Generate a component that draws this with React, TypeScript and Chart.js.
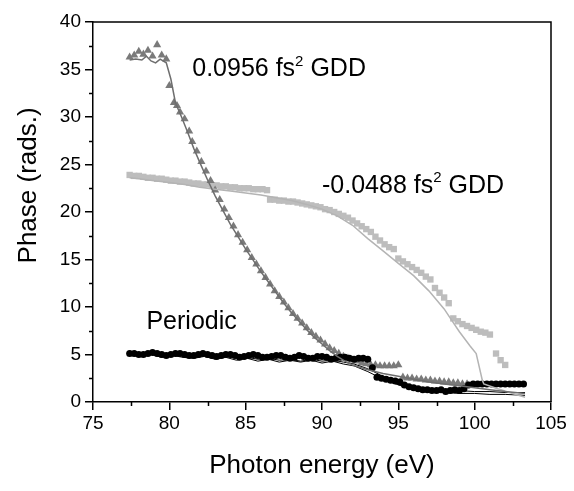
import React, { useEffect, useRef } from 'react';
import { Chart, registerables } from 'chart.js';

Chart.register(...registerables);

const FONT = "'Liberation Sans', Arial, sans-serif";

// 0.0956 fs^2 GDD (triangles, measured)
const triX = [77.4, 77.7, 78.0, 78.3, 78.6, 78.9, 79.2, 79.5, 79.8, 80.0, 80.3, 80.5, 80.7, 81.0, 81.3, 81.5, 81.8, 82.1, 82.4, 82.7, 83.0, 83.3, 83.6, 83.9, 84.2, 84.5, 84.8, 85.1, 85.4, 85.7, 86.0, 86.3, 86.6, 86.9, 87.2, 87.5, 87.8, 88.1, 88.4, 88.7, 89.0, 89.3, 89.6, 89.9, 90.2, 90.5, 90.8, 91.1, 91.4, 91.7, 92.0, 92.3, 92.6, 92.9, 93.2, 93.5, 93.8, 94.1, 94.4, 94.7, 95.0, 95.3, 95.6, 95.9, 96.2, 96.5, 96.8, 97.1, 97.4, 97.7, 98.0, 98.3, 98.6, 98.9, 99.2, 99.5];
const triY = [36.3, 36.5, 36.9, 36.6, 37.0, 36.4, 37.6, 36.5, 36.1, 33.3, 31.5, 31.2, 30.5, 29.8, 28.5, 27.4, 26.4, 25.3, 24.3, 23.3, 22.3, 21.3, 20.3, 19.4, 18.5, 17.6, 16.8, 16.0, 15.2, 14.5, 13.8, 13.1, 12.4, 11.7, 11.1, 10.5, 9.9, 9.3, 8.8, 8.3, 7.8, 7.3, 6.9, 6.5, 6.1, 5.7, 5.4, 5.1, 4.8, 4.6, 4.4, 4.3, 4.1, 4.0, 3.9, 3.9, 3.8, 3.8, 3.8, 3.8, 3.9, 2.6, 2.5, 2.5, 2.4, 2.4, 2.3, 2.3, 2.2, 2.2, 2.1, 2.1, 2.0, 2.0, 1.9, 1.9];

// 0.0956 fs^2 GDD (fit line)
const triFitX = [77.4, 77.8, 78.2, 78.5, 78.8, 79.1, 79.4, 79.8, 80.1, 80.4, 80.8, 81.2, 81.6, 82.0, 82.5, 83.0, 83.5, 84.0, 84.5, 85.0, 85.5, 86.0, 86.5, 87.0, 87.5, 88.0, 88.5, 89.0, 89.5, 90.0, 90.5, 91.0, 91.5, 92.0, 93.0, 94.0, 95.0, 96.0, 97.0, 98.0, 99.0, 100.0, 101.0, 102.0, 103.3];
const triFitY = [36.0, 36.1, 36.0, 36.4, 35.9, 35.7, 36.1, 35.7, 34.0, 31.5, 30.0, 28.4, 26.7, 25.2, 23.4, 21.7, 20.2, 18.7, 17.4, 16.1, 14.9, 13.7, 12.6, 11.5, 10.4, 9.4, 8.5, 7.6, 6.8, 6.1, 5.4, 4.8, 4.3, 3.9, 3.4, 3.0, 2.7, 2.4, 2.1, 1.9, 1.7, 1.5, 1.3, 1.1, 0.9];

// -0.0488 fs^2 GDD (squares, measured)
const sqX = [77.4, 77.7, 78.0, 78.3, 78.6, 78.9, 79.2, 79.5, 79.8, 80.1, 80.4, 80.7, 81.0, 81.3, 81.6, 81.9, 82.2, 82.5, 82.8, 83.1, 83.4, 83.7, 84.0, 84.3, 84.6, 84.9, 85.2, 85.5, 85.8, 86.1, 86.4, 86.6, 86.9, 87.2, 87.5, 87.8, 88.1, 88.4, 88.7, 89.0, 89.3, 89.6, 89.9, 90.2, 90.5, 90.8, 91.1, 91.4, 91.7, 92.0, 92.3, 92.6, 92.9, 93.2, 93.5, 93.8, 94.1, 94.4, 94.7, 95.0, 95.3, 95.6, 95.9, 96.2, 96.5, 96.8, 97.1, 97.4, 97.7, 98.0, 98.3, 98.6, 98.9, 99.2, 99.5, 99.8, 100.1, 100.4, 100.7, 101.0, 101.4, 101.7, 102.0];
const sqY = [23.9, 23.8, 23.8, 23.7, 23.6, 23.6, 23.5, 23.5, 23.4, 23.3, 23.3, 23.2, 23.2, 23.1, 23.0, 23.0, 22.9, 22.9, 22.8, 22.8, 22.7, 22.7, 22.6, 22.6, 22.5, 22.5, 22.5, 22.4, 22.4, 22.4, 22.3, 21.3, 21.3, 21.2, 21.2, 21.1, 21.1, 21.0, 20.9, 20.8, 20.7, 20.6, 20.5, 20.3, 20.2, 20.0, 19.8, 19.6, 19.4, 19.1, 18.8, 18.5, 18.2, 17.9, 17.4, 17.0, 16.6, 16.3, 16.1, 15.1, 14.8, 14.5, 14.2, 13.9, 13.6, 13.2, 12.9, 12.0, 11.5, 11.0, 10.4, 8.8, 8.5, 8.2, 8.0, 7.8, 7.6, 7.4, 7.3, 7.1, 5.1, 4.4, 3.9];

// -0.0488 fs^2 GDD (fit line)
const sqFitX = [77.4, 78.0, 79.0, 80.0, 81.0, 82.0, 83.0, 84.0, 85.0, 86.0, 87.0, 88.0, 89.0, 90.0, 91.0, 92.0, 93.0, 94.0, 95.0, 96.0, 97.0, 98.0, 98.5, 99.0, 99.7, 100.1, 100.5, 100.6, 101.5, 102.5, 103.3];
const sqFitY = [23.6, 23.5, 23.3, 23.1, 22.9, 22.6, 22.4, 22.2, 22.0, 21.8, 21.5, 21.2, 20.8, 20.3, 19.6, 18.6, 17.2, 15.9, 14.6, 13.3, 11.7, 9.8, 8.6, 7.4, 5.9, 5.1, 2.3, 1.9, 1.4, 0.9, 0.5];

// Periodic (circles, measured)
const perX = [77.4, 77.7, 78.0, 78.3, 78.6, 78.9, 79.2, 79.5, 79.8, 80.1, 80.4, 80.7, 81.0, 81.3, 81.6, 81.9, 82.2, 82.5, 82.8, 83.1, 83.4, 83.7, 84.0, 84.3, 84.6, 84.9, 85.2, 85.5, 85.8, 86.1, 86.4, 86.7, 87.0, 87.3, 87.6, 87.9, 88.2, 88.5, 88.8, 89.1, 89.4, 89.7, 90.0, 90.3, 90.6, 90.9, 91.2, 91.5, 91.8, 92.1, 92.4, 92.7, 93.0, 93.3, 93.6, 93.9, 94.2, 94.5, 94.8, 95.1, 95.4, 95.7, 96.0, 96.3, 96.6, 96.9, 97.2, 97.5, 97.8, 98.1, 98.4, 98.7, 99.0, 99.3, 99.6, 99.9, 100.2, 100.5, 100.8, 101.1, 101.4, 101.7, 102.0, 102.3, 102.6, 102.9, 103.2];
const perY = [5.1, 5.1, 5.0, 5.0, 5.1, 5.2, 5.1, 5.0, 4.9, 5.0, 5.1, 5.1, 5.0, 4.9, 4.9, 5.0, 5.1, 5.0, 4.9, 4.8, 4.9, 5.0, 5.0, 4.9, 4.7, 4.8, 4.9, 5.0, 4.9, 4.7, 4.7, 4.8, 4.9, 4.9, 4.7, 4.6, 4.7, 4.9, 4.8, 4.6, 4.6, 4.8, 4.8, 4.7, 4.5, 4.6, 4.7, 4.7, 4.6, 4.5, 4.6, 4.6, 4.5, 3.6, 2.6, 2.5, 2.4, 2.3, 2.2, 2.1, 1.8, 1.6, 1.5, 1.4, 1.3, 1.3, 1.2, 1.2, 1.3, 1.1, 1.2, 1.3, 1.2, 1.4, 1.8, 1.9, 1.9, 1.9, 1.9, 1.9, 1.9, 1.9, 1.9, 1.9, 1.9, 1.9, 1.9];

// Periodic (two fit lines)
const perFitX = [77.4, 78.1, 78.8, 79.5, 80.2, 80.9, 81.6, 82.3, 83.0, 83.7, 84.4, 85.1, 85.8, 86.5, 87.2, 87.9, 88.6, 89.3, 90.0, 90.7, 91.4, 92.1, 93.0, 94.0, 95.0, 96.0, 97.0, 98.0, 99.0, 100.0, 101.0, 102.0, 103.3];
const perFitAY = [5.0, 4.9, 5.1, 4.8, 5.0, 4.9, 4.7, 4.9, 4.6, 4.8, 4.6, 4.7, 4.5, 4.6, 4.4, 4.5, 4.3, 4.5, 4.3, 4.4, 4.2, 4.0, 3.5, 2.7, 2.0, 1.5, 1.3, 1.2, 1.2, 1.1, 1.1, 1.0, 1.0];
const perFitBY = [4.9, 4.8, 5.0, 4.7, 4.9, 4.7, 4.6, 4.8, 4.5, 4.7, 4.4, 4.6, 4.3, 4.5, 4.2, 4.4, 4.2, 4.4, 4.1, 4.3, 4.0, 3.8, 3.2, 2.4, 1.8, 1.3, 1.1, 1.0, 0.9, 0.9, 0.8, 0.8, 0.7];

const xMinorTicks = [77.5, 82.5, 87.5, 92.5, 97.5, 102.5];
const yMinorTicks = [2.5, 7.5, 12.5, 17.5, 22.5, 27.5, 32.5, 37.5];

const yTitle = 'Phase (rads.)';
const xTitle = 'Photon energy (eV)';

// annotation texts anchored in data units (left edge, vertical centre)
const annotations = [
  { x: 81.5, y: 35.0, main: '0.0956 fs', sup: '2', tail: ' GDD' },
  { x: 90.0, y: 22.7, main: '-0.0488 fs', sup: '2', tail: ' GDD' },
  { x: 78.5, y: 8.4, main: 'Periodic', sup: '', tail: '' },
];

const zip = (xs: number[], ys: number[]) => xs.map((x, i) => ({ x, y: ys[i] }));

const decorPlugin = {
  id: 'decor',
  afterDatasetsDraw(chart: any) {
    const { ctx, chartArea: a } = chart;
    const xs = chart.scales.x;
    const ys = chart.scales.y;
    ctx.save();
    ctx.strokeStyle = '#000';
    ctx.lineWidth = 1.5;
    ctx.beginPath();
    ctx.moveTo(a.left, a.top);
    ctx.lineTo(a.right, a.top);
    ctx.lineTo(a.right, a.bottom);
    ctx.stroke();
    ctx.beginPath();
    for (const v of xMinorTicks) {
      const px = Math.round(xs.getPixelForValue(v)) + 0.5;
      ctx.moveTo(px, a.bottom);
      ctx.lineTo(px, a.bottom + 4);
    }
    for (const v of yMinorTicks) {
      const py = Math.round(ys.getPixelForValue(v)) + 0.5;
      ctx.moveTo(a.left, py);
      ctx.lineTo(a.left - 4, py);
    }
    ctx.stroke();
    ctx.fillStyle = '#000';
    ctx.textBaseline = 'middle';
    ctx.textAlign = 'left';
    for (const an of annotations) {
      let px = xs.getPixelForValue(an.x);
      const py = ys.getPixelForValue(an.y);
      ctx.font = `25px ${FONT}`;
      ctx.fillText(an.main, px, py);
      px += ctx.measureText(an.main).width;
      if (an.sup) {
        ctx.font = `15px ${FONT}`;
        ctx.fillText(an.sup, px, py - 8);
        px += ctx.measureText(an.sup).width;
      }
      if (an.tail) {
        ctx.font = `25px ${FONT}`;
        ctx.fillText(an.tail, px, py);
      }
    }
    // y-axis title (sits slightly above the axis centre in the original)
    ctx.save();
    ctx.translate(29, ys.getPixelForValue(22.8));
    ctx.rotate(-Math.PI / 2);
    ctx.textAlign = 'center';
    ctx.font = `26px ${FONT}`;
    ctx.fillText(yTitle, 0, 0);
    ctx.restore();
    ctx.restore();
  },
};

export default function App() {
  const ref = useRef<HTMLCanvasElement | null>(null);
  useEffect(() => {
    if (!ref.current) return;
    const markers = (data: any, style: string, color: string, r: number, order: number) => ({
      data,
      showLine: false,
      pointStyle: style,
      pointRadius: r,
      pointBackgroundColor: color,
      pointBorderColor: color,
      pointBorderWidth: 0,
      order,
    });
    const line = (data: any, color: string, w: number, order: number) => ({
      data,
      showLine: true,
      pointRadius: 0,
      borderColor: color,
      borderWidth: w,
      tension: 0,
      order,
    });
    const chart = new Chart(ref.current, {
      type: 'scatter',
      data: {
        datasets: [
          line(zip(triFitX, triFitY), '#6e6e6e', 1.5, 1),
          line(zip(sqFitX, sqFitY), '#b4b4b4', 1.5, 2),
          line(zip(perFitX, perFitAY), '#000000', 1, 3),
          line(zip(perFitX, perFitBY), '#000000', 1, 4),
          markers(zip(perX, perY), 'circle', '#000000', 3.5, 5),
          markers(zip(triX, triY), 'triangle', '#7a7a7a', 4.7, 6),
          markers(zip(sqX, sqY), 'rect', '#bdbdbd', 4.5, 7),
        ] as any,
      },
      options: {
        animation: false,
        responsive: true,
        maintainAspectRatio: false,
        layout: { padding: { top: 22, right: 23, left: 0, bottom: 0 } },
        plugins: { legend: { display: false }, tooltip: { enabled: false } },
        scales: {
          x: {
            type: 'linear',
            min: 75,
            max: 105,
            afterFit: (s: any) => { s.height = 89; },
            ticks: { stepSize: 5, color: '#000', font: { family: FONT, size: 19 }, padding: 2, maxRotation: 0 },
            grid: { drawOnChartArea: false, color: '#000', lineWidth: 1.5, tickLength: 8 },
            border: { color: '#000', width: 1.5 },
            title: { display: true, text: xTitle, color: '#000', font: { family: FONT, size: 26 }, padding: { top: 0, bottom: 10 } },
          },
          y: {
            type: 'linear',
            min: 0,
            max: 40,
            afterFit: (s: any) => { s.width = 93; },
            ticks: { stepSize: 5, color: '#000', font: { family: FONT, size: 19 }, padding: 4 },
            grid: { drawOnChartArea: false, color: '#000', lineWidth: 1.5, tickLength: 8 },
            border: { color: '#000', width: 1.5 },
            title: { display: false },
          },
        },
      } as any,
      plugins: [decorPlugin],
    });
    return () => chart.destroy();
  }, []);
  return (
    <div style={{ position: 'absolute', left: 0, top: 0, width: 574, height: 491, background: '#fff' }}>
      <canvas ref={ref} />
    </div>
  );
}
